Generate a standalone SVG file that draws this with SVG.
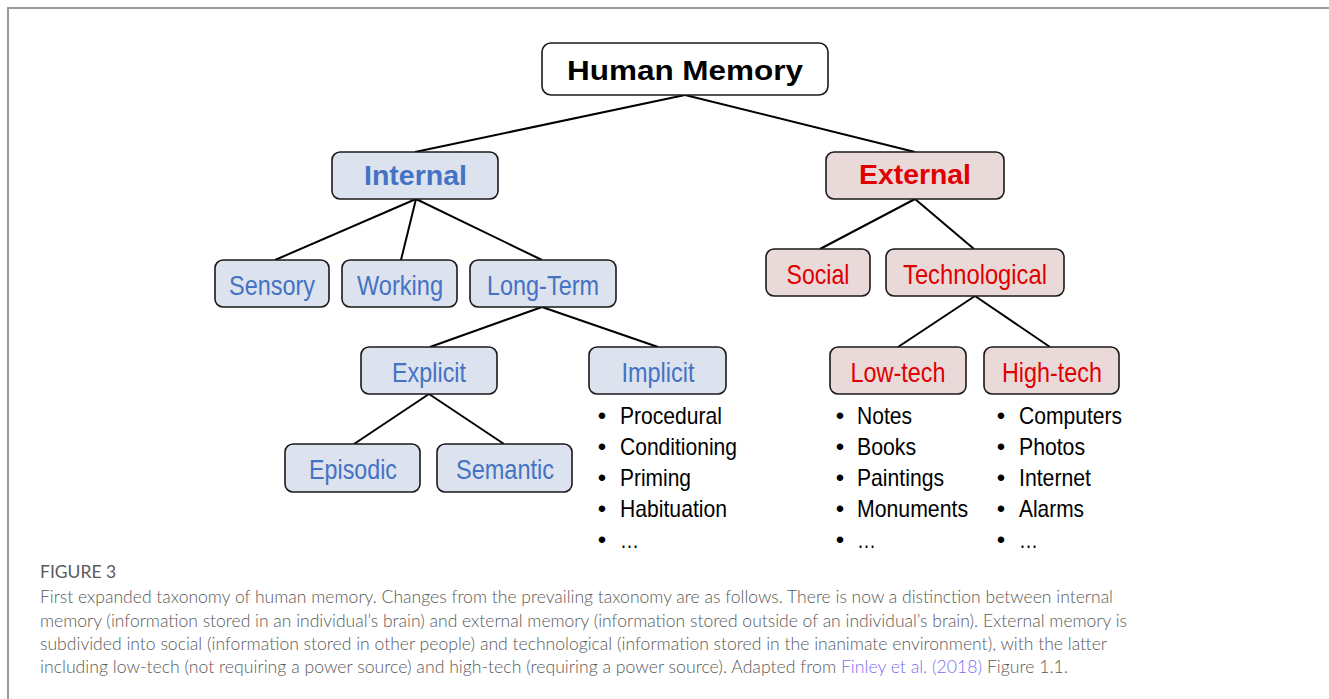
<svg xmlns="http://www.w3.org/2000/svg" width="1329" height="699" viewBox="0 0 1329 699">
<style>
.box{stroke:#1a1a1a;stroke-width:1.6}
.int{fill:#dce2ee}
.ext{fill:#ead9d9}
.root{fill:#ffffff}
.lbl{font-family:"Liberation Sans",Arial,sans-serif;text-anchor:middle;font-size:28px}
.b{font-weight:bold}
.blue{fill:#4472c4}
.red{fill:#e00000}
.item{font-family:"Liberation Sans",Arial,sans-serif;font-size:24px;fill:#000}
.bul{font-family:"Liberation Sans",Arial,sans-serif;font-size:24px;fill:#000;text-anchor:middle}
.cap{font-family:Lato,"Open Sans",sans-serif;font-size:17.5px;font-weight:300;fill:#5a5a5a}
.conn line{stroke:#000;stroke-width:2}
</style>
<rect width="1329" height="699" fill="#fff"/>
<g id="frame" fill="none" stroke="#999" stroke-width="2">
<line x1="7" y1="8" x2="1329" y2="8"/>
<line x1="8" y1="7" x2="8" y2="699"/>
</g>
<g class="conn" id="connectors">
<line x1="685" y1="95" x2="415" y2="152"/>
<line x1="685" y1="95" x2="915" y2="152"/>
<line x1="416" y1="199" x2="275" y2="260"/>
<line x1="416" y1="199" x2="401" y2="260"/>
<line x1="416" y1="199" x2="542" y2="260"/>
<line x1="542" y1="307" x2="430" y2="347"/>
<line x1="542" y1="307" x2="658" y2="347"/>
<line x1="429" y1="394" x2="354" y2="444"/>
<line x1="429" y1="394" x2="504" y2="444"/>
<line x1="915" y1="199" x2="820" y2="249"/>
<line x1="915" y1="199" x2="974" y2="249"/>
<line x1="975" y1="296" x2="898" y2="347"/>
<line x1="975" y1="296" x2="1050" y2="347"/>
</g>
<g id="human-memory"><rect class="box root" x="542" y="43" width="286" height="52" rx="9"/><text class="lbl b" x="685" y="80" font-size="32" textLength="236" lengthAdjust="spacingAndGlyphs">Human Memory</text></g>
<g id="internal"><rect class="box int" x="332" y="152" width="166" height="47" rx="8"/><text class="lbl b blue" x="415.5" y="185" font-size="29" textLength="103" lengthAdjust="spacingAndGlyphs">Internal</text></g>
<g id="external"><rect class="box ext" x="826" y="152" width="178" height="47" rx="8"/><text class="lbl b red" x="915" y="184" font-size="29" textLength="112" lengthAdjust="spacingAndGlyphs">External</text></g>
<g id="sensory"><rect class="box int" x="215" y="260" width="114" height="47" rx="8"/><text class="lbl blue" x="272" y="295" textLength="86" lengthAdjust="spacingAndGlyphs">Sensory</text></g>
<g id="working"><rect class="box int" x="342" y="260" width="115" height="47" rx="8"/><text class="lbl blue" x="400" y="295" textLength="86" lengthAdjust="spacingAndGlyphs">Working</text></g>
<g id="long-term"><rect class="box int" x="470" y="260" width="146" height="47" rx="8"/><text class="lbl blue" x="543" y="295" textLength="112" lengthAdjust="spacingAndGlyphs">Long-Term</text></g>
<g id="social"><rect class="box ext" x="766" y="249" width="104" height="47" rx="8"/><text class="lbl red" x="818" y="284" textLength="63" lengthAdjust="spacingAndGlyphs">Social</text></g>
<g id="technological"><rect class="box ext" x="886" y="249" width="178" height="47" rx="8"/><text class="lbl red" x="975" y="284" textLength="144" lengthAdjust="spacingAndGlyphs">Technological</text></g>
<g id="explicit"><rect class="box int" x="361" y="347" width="136" height="47" rx="8"/><text class="lbl blue" x="429" y="382" textLength="74" lengthAdjust="spacingAndGlyphs">Explicit</text></g>
<g id="implicit"><rect class="box int" x="589" y="347" width="137" height="47" rx="8"/><text class="lbl blue" x="658" y="382" textLength="73" lengthAdjust="spacingAndGlyphs">Implicit</text></g>
<g id="episodic"><rect class="box int" x="285" y="444" width="135" height="48" rx="8"/><text class="lbl blue" x="353" y="479" textLength="88" lengthAdjust="spacingAndGlyphs">Episodic</text></g>
<g id="semantic"><rect class="box int" x="437" y="444" width="135" height="48" rx="8"/><text class="lbl blue" x="505" y="479" textLength="98" lengthAdjust="spacingAndGlyphs">Semantic</text></g>
<g id="low-tech"><rect class="box ext" x="830" y="347" width="136" height="47" rx="8"/><text class="lbl red" x="898" y="382" textLength="95" lengthAdjust="spacingAndGlyphs">Low-tech</text></g>
<g id="high-tech"><rect class="box ext" x="984" y="347" width="135" height="47" rx="8"/><text class="lbl red" x="1052" y="382" textLength="100" lengthAdjust="spacingAndGlyphs">High-tech</text></g>
<g id="implicit-list">
<text class="bul" x="602" y="424">•</text><text class="item" x="620" y="424" textLength="102" lengthAdjust="spacingAndGlyphs">Procedural</text>
<text class="bul" x="602" y="455">•</text><text class="item" x="620" y="455" textLength="117" lengthAdjust="spacingAndGlyphs">Conditioning</text>
<text class="bul" x="602" y="486">•</text><text class="item" x="620" y="486" textLength="71" lengthAdjust="spacingAndGlyphs">Priming</text>
<text class="bul" x="602" y="517">•</text><text class="item" x="620" y="517" textLength="107" lengthAdjust="spacingAndGlyphs">Habituation</text>
<text class="bul" x="602" y="548">•</text><text class="item" x="620" y="548" textLength="19" lengthAdjust="spacingAndGlyphs">…</text>
</g>
<g id="low-tech-list">
<text class="bul" x="840" y="424">•</text><text class="item" x="857" y="424" textLength="55" lengthAdjust="spacingAndGlyphs">Notes</text>
<text class="bul" x="840" y="455">•</text><text class="item" x="857" y="455" textLength="59" lengthAdjust="spacingAndGlyphs">Books</text>
<text class="bul" x="840" y="486">•</text><text class="item" x="857" y="486" textLength="87" lengthAdjust="spacingAndGlyphs">Paintings</text>
<text class="bul" x="840" y="517">•</text><text class="item" x="857" y="517" textLength="111" lengthAdjust="spacingAndGlyphs">Monuments</text>
<text class="bul" x="840" y="548">•</text><text class="item" x="857" y="548" textLength="19" lengthAdjust="spacingAndGlyphs">…</text>
</g>
<g id="high-tech-list">
<text class="bul" x="1001" y="424">•</text><text class="item" x="1019" y="424" textLength="103" lengthAdjust="spacingAndGlyphs">Computers</text>
<text class="bul" x="1001" y="455">•</text><text class="item" x="1019" y="455" textLength="66" lengthAdjust="spacingAndGlyphs">Photos</text>
<text class="bul" x="1001" y="486">•</text><text class="item" x="1019" y="486" textLength="72" lengthAdjust="spacingAndGlyphs">Internet</text>
<text class="bul" x="1001" y="517">•</text><text class="item" x="1019" y="517" textLength="65" lengthAdjust="spacingAndGlyphs">Alarms</text>
<text class="bul" x="1001" y="548">•</text><text class="item" x="1019" y="548" textLength="19" lengthAdjust="spacingAndGlyphs">…</text>
</g>
<g id="caption">
<text class="cap" x="40" y="578" font-size="13" style="font-weight:400">FIGURE 3</text>
<text class="cap" x="40" y="603" textLength="1073" lengthAdjust="spacingAndGlyphs">First expanded taxonomy of human memory. Changes from the prevailing taxonomy are as follows. There is now a distinction between internal</text>
<text class="cap" x="40" y="627" textLength="1087" lengthAdjust="spacingAndGlyphs">memory (information stored in an individual’s brain) and external memory (information stored outside of an individual’s brain). External memory is</text>
<text class="cap" x="40" y="650" textLength="1067" lengthAdjust="spacingAndGlyphs">subdivided into social (information stored in other people) and technological (information stored in the inanimate environment), with the latter</text>
<text class="cap" x="40" y="673" textLength="1028" lengthAdjust="spacingAndGlyphs">including low-tech (not requiring a power source) and high-tech (requiring a power source). Adapted from <tspan fill="#7b6cf0">Finley et al. (2018)</tspan> Figure 1.1.</text>
</g>
</svg>
